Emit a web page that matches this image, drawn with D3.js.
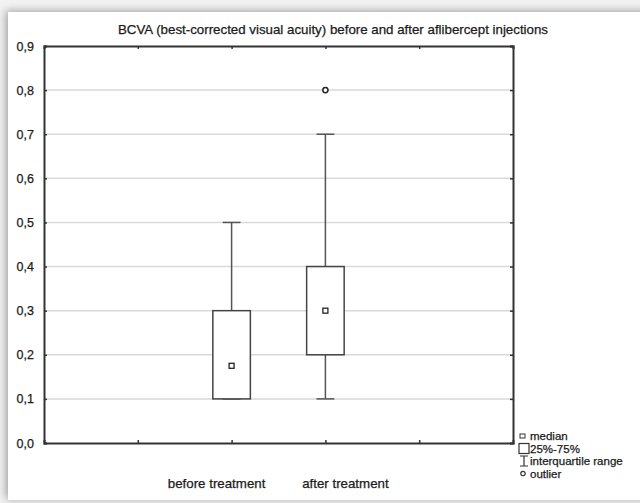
<!DOCTYPE html>
<html>
<head>
<meta charset="utf-8">
<script src="https://cdn.jsdelivr.net/npm/d3@7"></script>
<style>
  body { margin: 0; background: #ececec; }
  svg { display: block; }
</style>
</head>
<body>
<div id="wrapper"></div>
<script>
// data
const categories = ["before treatment", "after treatment"]
const categorySlots = [2, 3]          // position on a 0..5 axis
const q1Values = [0.1, 0.2]
const q3Values = [0.3, 0.4]
const medianValues = [0.175, 0.3]
const whiskerLow = [0.1, 0.1]
const whiskerHigh = [0.5, 0.7]
const outliers = [[], [0.8]]
const yTicks = [0, 0.1, 0.2, 0.3, 0.4, 0.5, 0.6, 0.7, 0.8, 0.9]
const xTicks = [1, 2, 3, 4]
const legendLabels = ["median", "25%-75%", "interquartile range", "outlier"]
const titleText = "BCVA (best-corrected visual acuity) before and after aflibercept injections"

const boxes = categories.map((c, i) => ({
  name: c, slot: categorySlots[i],
  q1: q1Values[i], q3: q3Values[i], median: medianValues[i],
  lo: whiskerLow[i], hi: whiskerHigh[i], outliers: outliers[i]
}))

// dimensions
const dimensions = {
  width: 640,
  height: 503,
  margin: { top: 46, right: 127, bottom: 60, left: 44 }
}
dimensions.boundWidth = dimensions.width - dimensions.margin.left - dimensions.margin.right
dimensions.boundHeight = dimensions.height - dimensions.margin.top - dimensions.margin.bottom

const font = "Liberation Sans, Arial, sans-serif"
const ink = "#333"
const textInk = "#1a1a1a"

// slightly heavier text, like the scanned original
function styleText(sel, size) {
  sel.attr("font-family", font).attr("font-size", size)
    .attr("fill", textInk).attr("stroke", textInk).attr("stroke-width", 0.25)
}

const wrapper = d3.select("#wrapper")
  .append("svg")
    .attr("width", dimensions.width)
    .attr("height", dimensions.height)

// card with soft shadow
const defs = wrapper.append("defs")
const shadow = defs.append("filter").attr("id", "shadow")
  .attr("x", "-5%").attr("y", "-5%").attr("width", "110%").attr("height", "110%")
shadow.append("feDropShadow")
  .attr("dx", -2).attr("dy", -1).attr("stdDeviation", 4)
  .attr("flood-color", "#000").attr("flood-opacity", 0.35)

wrapper.append("rect")
  .attr("width", dimensions.width).attr("height", dimensions.height)
  .attr("fill", "#f2f2f2")
wrapper.append("rect")
  .attr("x", 8).attr("y", 12)
  .attr("width", 660).attr("height", 488)
  .attr("fill", "#fff")
  .attr("filter", "url(#shadow)")

// title
wrapper.append("text")
  .attr("x", 333).attr("y", 34)
  .attr("text-anchor", "middle")
  .text(titleText)
  .call(styleText, 13.2)
  .attr("textLength", 430).attr("lengthAdjust", "spacingAndGlyphs")

const bounds = wrapper.append("g")
  .attr("transform", `translate(${dimensions.margin.left}, ${dimensions.margin.top})`)

// scales
const xScale = d3.scaleLinear()
  .domain([0, 5])
  .range([0, dimensions.boundWidth])

const yScale = d3.scaleLinear()
  .domain([0, 0.9])
  .range([dimensions.boundHeight, 0])

// gridlines
bounds.append("g")
  .selectAll("line")
  .data(yTicks.filter(d => d > 0 && d < 0.9))
  .join("line")
    .attr("x1", 0).attr("x2", dimensions.boundWidth)
    .attr("y1", d => yScale(d)).attr("y2", d => yScale(d))
    .attr("stroke", "#d9d9d9").attr("stroke-width", 1.5)

// axes
const fmt = d => d3.format(".1f")(d).replace(".", ",")

const yAxis = bounds.append("g")
  .call(d3.axisLeft(yScale).tickValues(yTicks).tickSize(-3).tickPadding(10).tickFormat(fmt))
bounds.append("g")
  .attr("transform", `translate(${dimensions.boundWidth},0)`)
  .call(d3.axisRight(yScale).tickValues(yTicks).tickSize(-3).tickFormat(""))
bounds.append("g")
  .attr("transform", `translate(0,${dimensions.boundHeight})`)
  .call(d3.axisBottom(xScale).tickValues(xTicks).tickSize(-3).tickFormat(""))
bounds.append("g")
  .call(d3.axisTop(xScale).tickValues(xTicks).tickSize(-3).tickFormat(""))

bounds.selectAll(".domain").attr("stroke", ink).attr("stroke-width", 2)
bounds.selectAll(".tick line").attr("stroke", ink).attr("stroke-width", 1.5)
yAxis.selectAll(".tick text").call(styleText, 12.5)

// category labels
const labelOffsets = [-15, 20]
bounds.append("g")
  .selectAll("text")
  .data(boxes)
  .join("text")
    .attr("x", (d, i) => xScale(d.slot) + labelOffsets[i])
    .attr("y", dimensions.boundHeight + 45)
    .attr("text-anchor", "middle")
    .text(d => d.name)
    .call(styleText, 13.3)

// box plots
const boxWidth = xScale(0.4)
const capWidth = xScale(0.19)

const boxGroups = bounds.append("g")
  .selectAll("g")
  .data(boxes)
  .join("g")

boxGroups.append("line")
  .attr("x1", d => xScale(d.slot)).attr("x2", d => xScale(d.slot))
  .attr("y1", d => yScale(d.hi)).attr("y2", d => yScale(d.q3))
  .attr("stroke", "#555").attr("stroke-width", 1.5)
boxGroups.append("line")
  .attr("x1", d => xScale(d.slot)).attr("x2", d => xScale(d.slot))
  .attr("y1", d => yScale(d.lo)).attr("y2", d => yScale(d.q1))
  .attr("stroke", "#555").attr("stroke-width", 1.5)
boxGroups.selectAll(".cap")
  .data(d => [{ s: d.slot, v: d.hi }, { s: d.slot, v: d.lo }])
  .join("line")
    .attr("class", "cap")
    .attr("x1", d => xScale(d.s) - capWidth / 2).attr("x2", d => xScale(d.s) + capWidth / 2)
    .attr("y1", d => yScale(d.v)).attr("y2", d => yScale(d.v))
    .attr("stroke", "#555").attr("stroke-width", 1.5)
boxGroups.append("rect")
  .attr("x", d => xScale(d.slot) - boxWidth / 2)
  .attr("y", d => yScale(d.q3))
  .attr("width", boxWidth)
  .attr("height", d => yScale(d.q1) - yScale(d.q3))
  .attr("fill", "#fff").attr("stroke", "#444").attr("stroke-width", 1.5)
boxGroups.append("rect")
  .attr("x", d => xScale(d.slot) - 2.5)
  .attr("y", d => yScale(d.median) - 2.5)
  .attr("width", 5).attr("height", 5)
  .attr("fill", "#fff").attr("stroke", "#222").attr("stroke-width", 1.3)
boxGroups.selectAll(".outlier")
  .data(d => d.outliers.map(v => ({ s: d.slot, v })))
  .join("circle")
    .attr("class", "outlier")
    .attr("cx", d => xScale(d.s)).attr("cy", d => yScale(d.v))
    .attr("r", 2.6)
    .attr("fill", "#fff").attr("stroke", "#222").attr("stroke-width", 1.5)

// legend
const legend = wrapper.append("g")
  .attr("transform", "translate(520, 436)")
const rowH = 12.5
legend.selectAll("text")
  .data(legendLabels)
  .join("text")
    .attr("x", 10).attr("y", (d, i) => i * rowH + 4)
    .text(d => d)
    .call(styleText, 11.5)
// median symbol
legend.append("rect")
  .attr("x", 0).attr("y", -2).attr("width", 5).attr("height", 4)
  .attr("fill", "none").attr("stroke", "#333").attr("stroke-width", 1)
// box symbol
legend.append("rect")
  .attr("x", -1).attr("y", rowH - 5).attr("width", 10).attr("height", 10)
  .attr("fill", "none").attr("stroke", "#333").attr("stroke-width", 1.2)
// whisker symbol
legend.append("path")
  .attr("d", `M0,${2 * rowH - 5}H8M4,${2 * rowH - 5}V${2 * rowH + 5}M0,${2 * rowH + 5}H8`)
  .attr("fill", "none").attr("stroke", "#333").attr("stroke-width", 1.2)
// outlier symbol
legend.append("circle")
  .attr("cx", 3).attr("cy", 3 * rowH).attr("r", 2.2)
  .attr("fill", "none").attr("stroke", "#333").attr("stroke-width", 1.2)
</script>
</body>
</html>
